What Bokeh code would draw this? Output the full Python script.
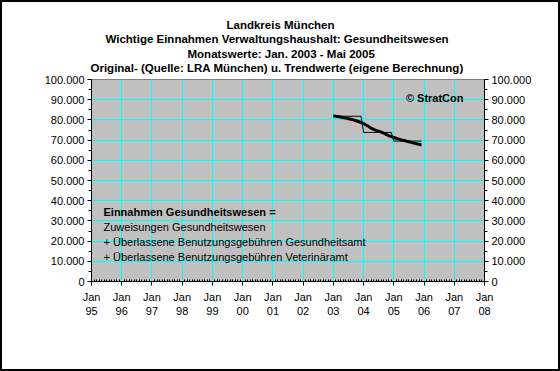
import pandas as pd
from bokeh.plotting import figure
from bokeh.models import LinearAxis, FixedTicker, Label, Range1d, Title
from bokeh.embed import file_html
from bokeh.resources import INLINE

# ---- data ----
months = pd.date_range("2003-01-01", "2005-12-01", freq="MS")
original = [81800] * 12 + [73800] * 12 + [69500] * 12
trend = [82000, 81800, 81600, 81400, 81100, 80900, 80600, 80300, 80000, 79600, 79200, 78700,
         78200, 77500, 76700, 75900, 75300, 74800, 74400, 73900, 73400, 72800, 72200, 71700,
         71300, 70900, 70500, 70100, 69800, 69500, 69200, 68900, 68500, 68200, 67900, 67600]
x_years = list(range(1995, 2009))
x_labels = ["Jan\n%02d" % (y % 100) for y in x_years]
y_ticks = list(range(0, 100001, 10000))
y_labels = ["0" if v == 0 else "{:,}".format(v).replace(",", ".") for v in y_ticks]
titles = ["Landkreis München",
          "Wichtige Einnahmen Verwaltungshaushalt: Gesundheitswesen",
          "Monatswerte: Jan. 2003 - Mai 2005",
          "Original- (Quelle: LRA München) u. Trendwerte (eigene Berechnung)"]
note_lines = ["Einnahmen Gesundheitswesen =",
              "Zuweisungen Gesundheitswesen",
              "+ Überlassene Benutzungsgebühren Gesundheitsamt",
              "+ Überlassene Benutzungsgebühren Veterinäramt"]

xs = [d.year + (d.month - 1) / 12 for d in months]

FONT = "Liberation Sans"
BW = 2                      # outer black border width (inside the element box)
W, H = 560, 371
FL, FT, FR, FB = 91 - BW, 79 - BW, 484 - BW, 281 - BW   # frame edges in canvas pixels
p = figure(width=W, height=H, output_backend="svg", toolbar_location=None,
           x_range=Range1d(1995, 2008), y_range=Range1d(0, 100000),
           min_border_left=FL, min_border_right=W - FR, min_border_top=FT, min_border_bottom=H - FB,
           background_fill_color="#C0C0C0", border_fill_color="white",
           outline_line_color="#808080",
           styles={"border": "%dpx solid black" % BW})

# titles: p.title sits on top, later-added ones stack outward from the frame
title_left = [226, 105, 187, 90]      # page x of each title line's left edge
title_standoff = [-10, 11, -10, 11]
p.title.text = titles[0]
objs = {0: p.title}
for i in (3, 2, 1):
    objs[i] = Title(text=titles[i])
for i, t in objs.items():
    t.text_font = FONT
    t.text_font_size = "11.5px"
    t.text_font_style = "bold"
    t.text_color = "black"
    t.align = "left"
    t.offset = title_left[i] - (FL + BW)
    t.standoff = title_standoff[i]
for i in (3, 2, 1):
    p.add_layout(objs[i], "above")

# grid
p.xgrid.ticker = FixedTicker(ticks=x_years)
p.ygrid.ticker = FixedTicker(ticks=y_ticks)
for g in (p.xgrid, p.ygrid):
    g.grid_line_color = "#00FFFF"
    g.grid_line_width = 1

# x axis
xminor = [y + m / 12 for y in range(1995, 2008) for m in range(1, 12)]
xa = p.xaxis[0]
xa.ticker = FixedTicker(ticks=x_years, minor_ticks=xminor)
xa.major_label_overrides = {y: l for y, l in zip(x_years, x_labels)}
xa.major_tick_out = 4
xa.major_tick_in = 0
xa.minor_tick_in = 2
xa.minor_tick_out = 0
xa.major_label_standoff = 5
xa.axis_line_color = "black"

yminor = list(range(5000, 100000, 10000))
def style_y(ax):
    ax.ticker = FixedTicker(ticks=y_ticks, minor_ticks=yminor)
    ax.major_label_overrides = {v: l for v, l in zip(y_ticks, y_labels)}
    ax.major_tick_out = 4
    ax.major_tick_in = 0
    ax.minor_tick_out = 3
    ax.minor_tick_in = 0
    ax.major_label_standoff = 3
    ax.axis_line_color = "black"

style_y(p.yaxis[0])
ra = LinearAxis()
style_y(ra)
p.add_layout(ra, "right")

for ax in (xa, p.yaxis[0], ra):
    ax.major_label_text_font = FONT
    ax.major_label_text_font_size = "11px"
    ax.major_label_text_color = "black"
    ax.major_tick_line_color = "black"
    ax.minor_tick_line_color = "black"

# data
p.line(xs, original, line_color="black", line_width=1)
p.line(xs, trend, line_color="black", line_width=3)

p.add_layout(Label(x=2005.4, y=90700, text="© StratCon", text_align="left",
                   text_baseline="middle", text_font=FONT, text_font_size="11px",
                   text_font_style="bold", text_color="black"))

# note (screen units are relative to the frame's bottom-left corner)
for i, t in enumerate(note_lines):
    p.add_layout(Label(x=103 - 91, y=281 - (211 + 15 * i), x_units="screen", y_units="screen",
                       text=t, text_align="left", text_baseline="middle",
                       text_font=FONT, text_font_size="11px",
                       text_font_style="bold" if i == 0 else "normal", text_color="black"))

open("out.html", "w").write(file_html(p, INLINE))
